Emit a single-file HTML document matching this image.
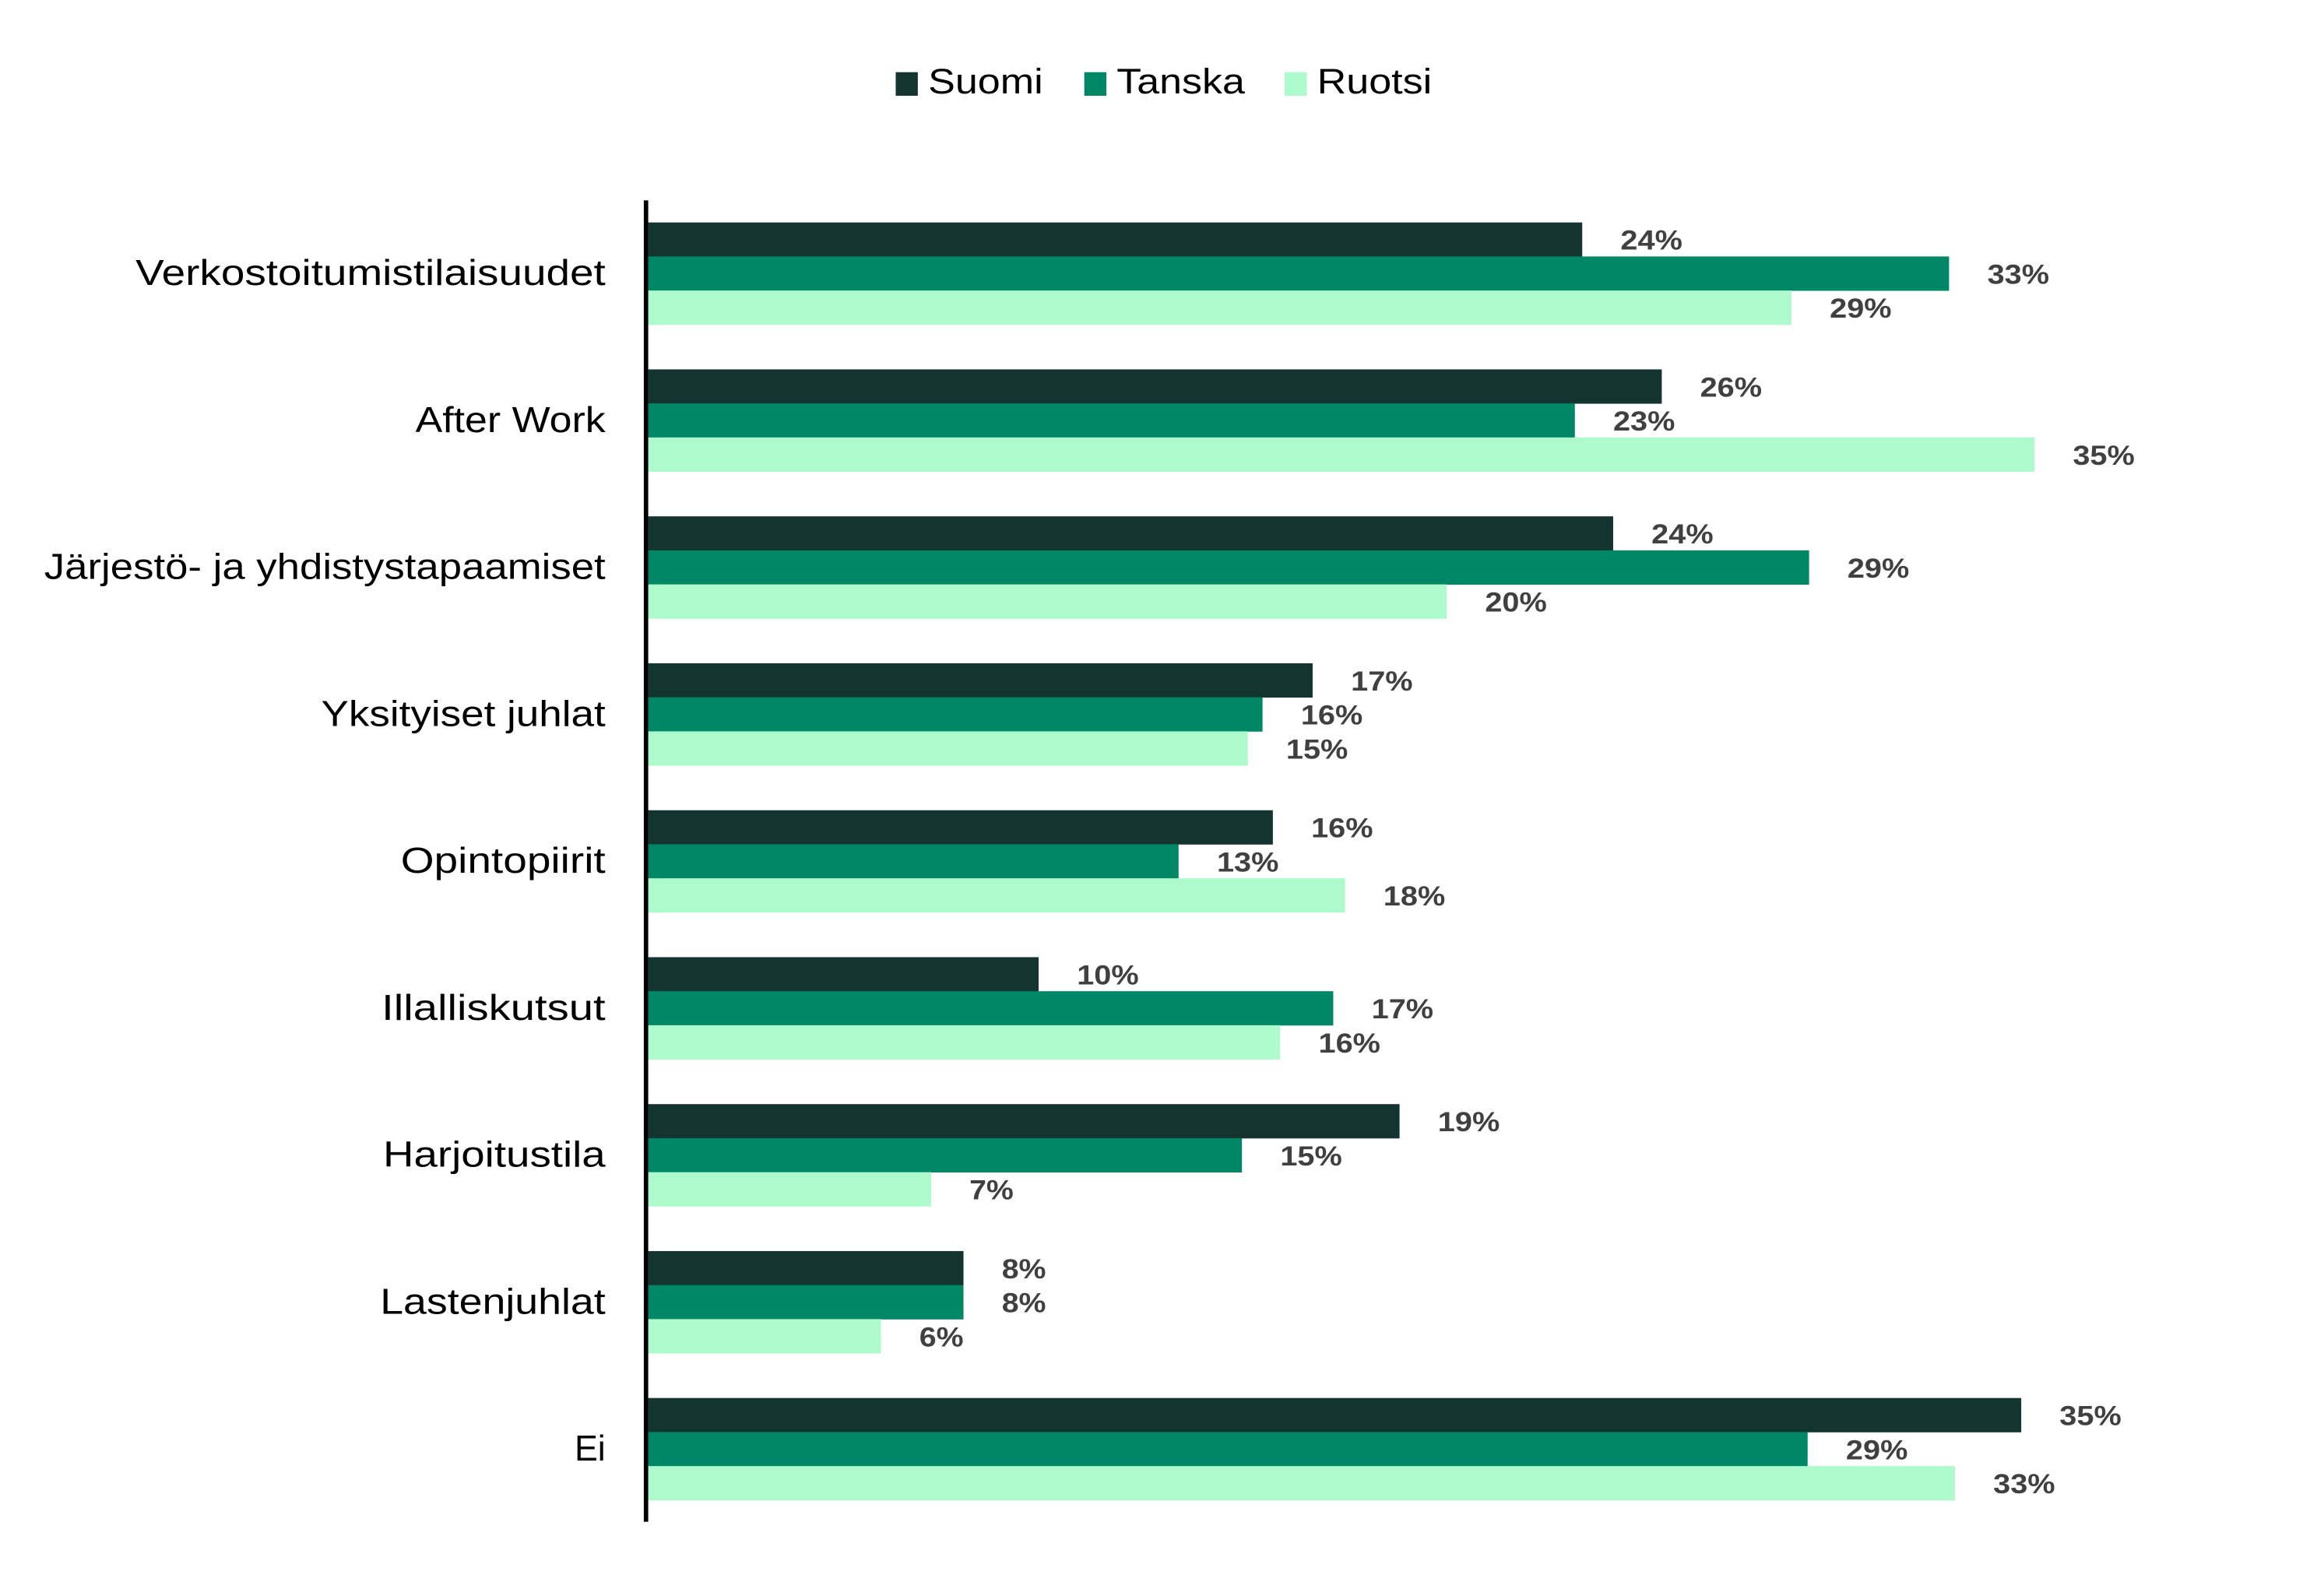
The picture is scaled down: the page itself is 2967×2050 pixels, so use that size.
<!DOCTYPE html>
<html><head><meta charset="utf-8"><style>html,body{margin:0;padding:0;background:#fff}svg{display:block}</style></head>
<body>
<svg width="2967" height="2050" viewBox="0 0 1568 1083.4" xmlns="http://www.w3.org/2000/svg" font-family="Liberation Sans, sans-serif">
<rect width="1568" height="1084" fill="#fff"/>
<rect x="608" y="49" width="15" height="16" fill="#143430"/>
<text x="630" y="63.5" font-size="24" textLength="78" lengthAdjust="spacingAndGlyphs">Suomi</text>
<rect x="736" y="49" width="15" height="16" fill="#008866"/>
<text x="758" y="63.5" font-size="24" textLength="87" lengthAdjust="spacingAndGlyphs">Tanska</text>
<rect x="872" y="49" width="15" height="16" fill="#adfbcc"/>
<text x="894" y="63.5" font-size="24" textLength="78" lengthAdjust="spacingAndGlyphs">Ruotsi</text>

<g font-size="24.5" text-anchor="end" lengthAdjust="spacingAndGlyphs">
<text x="411" y="193.5" textLength="319" lengthAdjust="spacingAndGlyphs">Verkostoitumistilaisuudet</text>
<text x="411" y="293.25" textLength="129" lengthAdjust="spacingAndGlyphs">After Work</text>
<text x="411" y="393" textLength="381" lengthAdjust="spacingAndGlyphs">Järjestö- ja yhdistystapaamiset</text>
<text x="411" y="492.75" textLength="193" lengthAdjust="spacingAndGlyphs">Yksityiset juhlat</text>
<text x="411" y="592.5" textLength="139" lengthAdjust="spacingAndGlyphs">Opintopiirit</text>
<text x="411" y="692.25" textLength="152" lengthAdjust="spacingAndGlyphs">Illalliskutsut</text>
<text x="411" y="792" textLength="151" lengthAdjust="spacingAndGlyphs">Harjoitustila</text>
<text x="411" y="891.75" textLength="153" lengthAdjust="spacingAndGlyphs">Lastenjuhlat</text>
<text x="411" y="991.5" textLength="21" lengthAdjust="spacingAndGlyphs">Ei</text>
</g>

<g>
<rect x="440" y="151" width="634" height="23.3" fill="#143430"/>
<rect x="440" y="174.1" width="883" height="23.3" fill="#008866"/>
<rect x="440" y="197.2" width="776" height="23.3" fill="#adfbcc"/>
<rect x="440" y="250.75" width="688" height="23.3" fill="#143430"/>
<rect x="440" y="273.85" width="629" height="23.3" fill="#008866"/>
<rect x="440" y="296.95" width="941" height="23.3" fill="#adfbcc"/>
<rect x="440" y="350.5" width="655" height="23.3" fill="#143430"/>
<rect x="440" y="373.6" width="788" height="23.3" fill="#008866"/>
<rect x="440" y="396.7" width="542" height="23.3" fill="#adfbcc"/>
<rect x="440" y="450.25" width="451" height="23.3" fill="#143430"/>
<rect x="440" y="473.35" width="417" height="23.3" fill="#008866"/>
<rect x="440" y="496.45" width="407" height="23.3" fill="#adfbcc"/>
<rect x="440" y="550" width="424" height="23.3" fill="#143430"/>
<rect x="440" y="573.1" width="360" height="23.3" fill="#008866"/>
<rect x="440" y="596.2" width="473" height="23.3" fill="#adfbcc"/>
<rect x="440" y="649.75" width="265" height="23.3" fill="#143430"/>
<rect x="440" y="672.85" width="465" height="23.3" fill="#008866"/>
<rect x="440" y="695.95" width="429" height="23.3" fill="#adfbcc"/>
<rect x="440" y="749.5" width="510" height="23.3" fill="#143430"/>
<rect x="440" y="772.6" width="403" height="23.3" fill="#008866"/>
<rect x="440" y="795.7" width="192" height="23.3" fill="#adfbcc"/>
<rect x="440" y="849.25" width="214" height="23.3" fill="#143430"/>
<rect x="440" y="872.35" width="214" height="23.3" fill="#008866"/>
<rect x="440" y="895.45" width="158" height="23.3" fill="#adfbcc"/>
<rect x="440" y="949" width="932" height="23.3" fill="#143430"/>
<rect x="440" y="972.1" width="787" height="23.3" fill="#008866"/>
<rect x="440" y="995.2" width="887" height="23.3" fill="#adfbcc"/>
</g>

<g font-size="18.5" font-weight="bold" fill="#404040">
<text x="1100" y="169.5" textLength="42" lengthAdjust="spacingAndGlyphs">24%</text>
<text x="1349" y="192.6" textLength="42" lengthAdjust="spacingAndGlyphs">33%</text>
<text x="1242" y="215.7" textLength="42" lengthAdjust="spacingAndGlyphs">29%</text>
<text x="1154" y="269.25" textLength="42" lengthAdjust="spacingAndGlyphs">26%</text>
<text x="1095" y="292.35" textLength="42" lengthAdjust="spacingAndGlyphs">23%</text>
<text x="1407" y="315.45" textLength="42" lengthAdjust="spacingAndGlyphs">35%</text>
<text x="1121" y="369" textLength="42" lengthAdjust="spacingAndGlyphs">24%</text>
<text x="1254" y="392.1" textLength="42" lengthAdjust="spacingAndGlyphs">29%</text>
<text x="1008" y="415.2" textLength="42" lengthAdjust="spacingAndGlyphs">20%</text>
<text x="917" y="468.75" textLength="42" lengthAdjust="spacingAndGlyphs">17%</text>
<text x="883" y="491.85" textLength="42" lengthAdjust="spacingAndGlyphs">16%</text>
<text x="873" y="514.95" textLength="42" lengthAdjust="spacingAndGlyphs">15%</text>
<text x="890" y="568.5" textLength="42" lengthAdjust="spacingAndGlyphs">16%</text>
<text x="826" y="591.6" textLength="42" lengthAdjust="spacingAndGlyphs">13%</text>
<text x="939" y="614.7" textLength="42" lengthAdjust="spacingAndGlyphs">18%</text>
<text x="731" y="668.25" textLength="42" lengthAdjust="spacingAndGlyphs">10%</text>
<text x="931" y="691.35" textLength="42" lengthAdjust="spacingAndGlyphs">17%</text>
<text x="895" y="714.45" textLength="42" lengthAdjust="spacingAndGlyphs">16%</text>
<text x="976" y="768" textLength="42" lengthAdjust="spacingAndGlyphs">19%</text>
<text x="869" y="791.1" textLength="42" lengthAdjust="spacingAndGlyphs">15%</text>
<text x="658" y="814.2" textLength="30" lengthAdjust="spacingAndGlyphs">7%</text>
<text x="680" y="867.75" textLength="30" lengthAdjust="spacingAndGlyphs">8%</text>
<text x="680" y="890.85" textLength="30" lengthAdjust="spacingAndGlyphs">8%</text>
<text x="624" y="913.95" textLength="30" lengthAdjust="spacingAndGlyphs">6%</text>
<text x="1398" y="967.5" textLength="42" lengthAdjust="spacingAndGlyphs">35%</text>
<text x="1253" y="990.6" textLength="42" lengthAdjust="spacingAndGlyphs">29%</text>
<text x="1353" y="1013.7" textLength="42" lengthAdjust="spacingAndGlyphs">33%</text>
</g>

<line x1="438.5" y1="136" x2="438.5" y2="1033" stroke="#000" stroke-width="3"/>
</svg>
</body></html>
